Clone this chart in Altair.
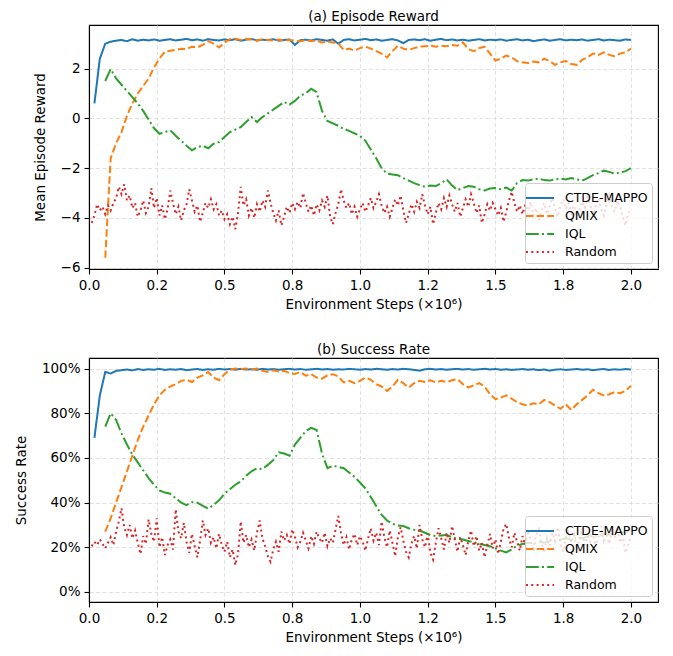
import altair as alt
import pandas as pd

METHODS = ["CTDE-MAPPO", "QMIX", "IQL", "Random"]
COLORS = ["#1f77b4", "#ff7f0e", "#2ca02c", "#d62728"]
DASHES = [[1, 0], [7.4, 3.2], [12.8, 3.2, 2, 3.2], [2, 3.3]]

X_TICKS = [0, 0.25, 0.5, 0.75, 1.0, 1.25, 1.5, 1.75, 2.0]
X_TICK_LABELS = ["0.0", "0.2", "0.5", "0.8", "1.0", "1.2", "1.5", "1.8", "2.0"]
REWARD_TICKS = [-6, -4, -2, 0, 2]
REWARD_TICK_LABELS = ["\u22126", "\u22124", "\u22122", "0", "2"]
SUCCESS_TICKS = [0, 20, 40, 60, 80, 100]
SUCCESS_TICK_LABELS = ["0%", "20%", "40%", "60%", "80%", "100%"]

# environment steps (x10^6), logging grid
STEPS = [0.00, 0.02, 0.04, 0.06, 0.08, 0.10, 0.12, 0.14, 0.16, 0.18,
         0.20, 0.22, 0.24, 0.26, 0.28, 0.30, 0.32, 0.34, 0.36, 0.38,
         0.40, 0.42, 0.44, 0.46, 0.48, 0.50, 0.52, 0.54, 0.56, 0.58,
         0.60, 0.62, 0.64, 0.66, 0.68, 0.70, 0.72, 0.74, 0.76, 0.78,
         0.80, 0.82, 0.84, 0.86, 0.88, 0.90, 0.92, 0.94, 0.96, 0.98,
         1.00, 1.02, 1.04, 1.06, 1.08, 1.10, 1.12, 1.14, 1.16, 1.18,
         1.20, 1.22, 1.24, 1.26, 1.28, 1.30, 1.32, 1.34, 1.36, 1.38,
         1.40, 1.42, 1.44, 1.46, 1.48, 1.50, 1.52, 1.54, 1.56, 1.58,
         1.60, 1.62, 1.64, 1.66, 1.68, 1.70, 1.72, 1.74, 1.76, 1.78,
         1.80, 1.82, 1.84, 1.86, 1.88, 1.90, 1.92, 1.94, 1.96, 1.98,
         2.00]

STEPS_FINE = [0.00, 0.01, 0.02, 0.03, 0.04, 0.05, 0.06, 0.07, 0.08, 0.09,
              0.10, 0.11, 0.12, 0.13, 0.14, 0.15, 0.16, 0.17, 0.18, 0.19,
              0.20, 0.21, 0.22, 0.23, 0.24, 0.25, 0.26, 0.27, 0.28, 0.29,
              0.30, 0.31, 0.32, 0.33, 0.34, 0.35, 0.36, 0.37, 0.38, 0.39,
              0.40, 0.41, 0.42, 0.43, 0.44, 0.45, 0.46, 0.47, 0.48, 0.49,
              0.50, 0.51, 0.52, 0.53, 0.54, 0.55, 0.56, 0.57, 0.58, 0.59,
              0.60, 0.61, 0.62, 0.63, 0.64, 0.65, 0.66, 0.67, 0.68, 0.69,
              0.70, 0.71, 0.72, 0.73, 0.74, 0.75, 0.76, 0.77, 0.78, 0.79,
              0.80, 0.81, 0.82, 0.83, 0.84, 0.85, 0.86, 0.87, 0.88, 0.89,
              0.90, 0.91, 0.92, 0.93, 0.94, 0.95, 0.96, 0.97, 0.98, 0.99,
              1.00, 1.01, 1.02, 1.03, 1.04, 1.05, 1.06, 1.07, 1.08, 1.09,
              1.10, 1.11, 1.12, 1.13, 1.14, 1.15, 1.16, 1.17, 1.18, 1.19,
              1.20, 1.21, 1.22, 1.23, 1.24, 1.25, 1.26, 1.27, 1.28, 1.29,
              1.30, 1.31, 1.32, 1.33, 1.34, 1.35, 1.36, 1.37, 1.38, 1.39,
              1.40, 1.41, 1.42, 1.43, 1.44, 1.45, 1.46, 1.47, 1.48, 1.49,
              1.50, 1.51, 1.52, 1.53, 1.54, 1.55, 1.56, 1.57, 1.58, 1.59,
              1.60, 1.61, 1.62, 1.63, 1.64, 1.65, 1.66, 1.67, 1.68, 1.69,
              1.70, 1.71, 1.72, 1.73, 1.74, 1.75, 1.76, 1.77, 1.78, 1.79,
              1.80, 1.81, 1.82, 1.83, 1.84, 1.85, 1.86, 1.87, 1.88, 1.89,
              1.90, 1.91, 1.92, 1.93, 1.94, 1.95, 1.96, 1.97, 1.98, 1.99,
              2.00]

# ---------------- (a) Episode Reward ----------------
REWARD_MAPPO = [None, 0.60, 2.40, 3.00, 3.08, 3.12, 3.15, 3.10, 3.18, 3.12,
                3.16, 3.13, 3.17, 3.12, 3.15, 3.18, 3.13, 3.16, 3.19, 3.14,
                3.17, 3.12, 3.18, 3.15, 3.13, 3.17, 3.14, 3.18, 3.12, 3.16,
                3.19, 3.13, 3.16, 3.14, 3.18, 3.12, 3.15, 3.17, 2.95, 3.14,
                3.16, 3.13, 3.18, 3.15, 3.12, 3.17, 3.00, 3.15, 3.18, 3.13,
                3.16, 3.19, 3.14, 3.17, 3.12, 3.15, 3.18, 3.13, 3.02, 3.15,
                3.17, 3.14, 3.18, 3.12, 3.16, 3.19, 3.14, 3.17, 3.13, 3.16,
                3.12, 3.15, 3.18, 3.13, 3.16, 3.14, 3.17, 3.12, 3.15, 3.18,
                3.13, 3.16, 3.10, 3.14, 3.17, 3.12, 3.15, 3.18, 3.13, 3.16,
                3.14, 3.17, 3.12, 3.15, 3.18, 3.13, 3.16, 3.14, 3.12, 3.17,
                3.15]
REWARD_QMIX = [None, None, None, -5.60, -1.60, -1.00, -0.55, 0.10, 0.60, 1.00,
               1.30, 1.60, 2.05, 2.40, 2.68, 2.72, 2.75, 2.80, 2.78, 2.88,
               2.85, 2.95, 3.10, 3.00, 2.85, 3.05, 3.18, 3.20, 3.15, 3.20,
               3.17, 3.12, 3.18, 3.15, 3.13, 3.17, 3.12, 3.15, 3.12, 3.10,
               3.14, 3.10, 3.12, 3.05, 3.08, 3.05, 3.02, 2.75, 2.80, 2.72,
               2.82, 2.88, 2.80, 2.70, 2.60, 2.45, 2.70, 2.92, 2.80, 2.75,
               2.82, 2.88, 2.90, 2.92, 2.88, 2.92, 2.90, 2.95, 2.92, 3.05,
               2.78, 2.70, 2.82, 2.88, 2.60, 2.32, 2.40, 2.52, 2.45, 2.30,
               2.25, 2.22, 2.28, 2.25, 2.40, 2.30, 2.15, 2.25, 2.30, 2.18,
               2.15, 2.35, 2.45, 2.60, 2.55, 2.65, 2.55, 2.50, 2.60, 2.65,
               2.80]
REWARD_IQL = [None, None, None, 1.50, 1.98, 1.60, 1.35, 1.10, 0.85, 0.60,
              0.30, -0.05, -0.40, -0.62, -0.55, -0.48, -0.70, -0.90, -1.10, -1.28,
              -1.15, -1.10, -1.20, -1.02, -0.95, -0.75, -0.55, -0.45, -0.35, -0.15,
              0.05, -0.15, 0.05, 0.20, 0.35, 0.50, 0.66, 0.55, 0.70, 0.92,
              1.00, 1.19, 1.05, 0.30, -0.10, -0.20, -0.30, -0.42, -0.50, -0.60,
              -0.70, -0.90, -1.25, -1.60, -2.00, -2.22, -2.25, -2.28, -2.40, -2.50,
              -2.60, -2.68, -2.75, -2.70, -2.72, -2.60, -2.45, -2.70, -2.88, -2.80,
              -2.72, -2.75, -2.85, -2.90, -2.82, -2.80, -2.85, -2.78, -2.90, -2.60,
              -2.48, -2.50, -2.45, -2.42, -2.48, -2.50, -2.45, -2.42, -2.45, -2.40,
              -2.45, -2.50, -2.40, -2.28, -2.20, -2.10, -2.15, -2.22, -2.18, -2.12,
              -2.00]
REWARD_RANDOM = [None, -4.20, -3.90, -3.45, -3.70, -3.55, -3.85, -3.50, -3.70, -3.40,
                 -3.20, -2.75, -3.05, -2.65, -3.30, -3.10, -3.60, -3.40, -3.95, -3.70,
                 -3.30, -3.80, -3.55, -2.80, -3.60, -3.20, -3.90, -3.50, -4.05, -3.65,
                 -2.90, -3.40, -3.85, -3.55, -4.10, -3.70, -3.45, -2.85, -3.30, -3.75,
                 -3.50, -4.15, -3.80, -3.40, -3.60, -3.25, -3.65, -3.45, -3.90, -3.70,
                 -4.05, -3.85, -4.25, -3.95, -4.45, -3.80, -2.75, -3.50, -3.25, -3.90,
                 -3.60, -4.00, -3.45, -3.75, -3.30, -3.55, -2.90, -3.40, -3.80, -4.10,
                 -3.70, -4.30, -3.95, -3.55, -3.80, -3.40, -3.65, -3.35, -3.60, -3.00,
                 -3.40, -3.75, -3.50, -3.90, -3.45, -3.70, -3.30, -3.55, -3.10, -3.95,
                 -4.25, -3.80, -3.45, -2.85, -3.30, -3.60, -3.40, -3.85, -3.55, -3.95,
                 -3.65, -3.40, -3.75, -3.50, -3.20, -3.60, -3.35, -3.05, -3.50, -3.80,
                 -3.55, -3.95, -3.60, -3.25, -3.50, -3.10, -3.70, -4.20, -3.85, -3.45,
                 -3.75, -3.35, -3.60, -3.05, -3.50, -3.85, -3.55, -4.25, -3.80, -3.40,
                 -3.65, -3.20, -3.55, -3.10, -3.45, -3.75, -3.40, -3.95, -3.60, -3.25,
                 -3.55, -3.05, -3.40, -3.80, -3.50, -4.20, -3.85, -3.45, -3.70, -3.40,
                 -3.65, -3.90, -3.60, -4.15, -3.75, -3.30, -2.95, -3.40, -3.75, -3.50,
                 -3.85, -3.45, -3.70, -3.35, -3.90, -3.60, -4.10, -3.70, -3.40, -3.85,
                 -3.55, -3.20, -3.60, -3.95, -3.50, -3.25, -3.65, -3.40, -3.80, -3.50,
                 -4.05, -3.70, -3.35, -3.60, -3.15, -3.50, -3.85, -3.55, -3.20, -3.60,
                 -3.90, -3.45, -3.10, -3.50, -3.75, -3.30, -3.55, -3.95, -4.30, -3.80,
                 -3.70]

# ---------------- (b) Success Rate (%) ----------------
SUCCESS_MAPPO = [None, 69.0, 88.0, 98.5, 97.8, 99.0, 99.3, 99.6, 99.2, 99.8,
                 99.4, 99.7, 99.5, 99.9, 99.4, 99.7, 99.5, 99.8, 99.3, 99.6,
                 99.8, 99.4, 99.7, 99.5, 99.9, 99.6, 99.8, 99.5, 99.9, 99.6,
                 99.7, 99.5, 99.9, 99.6, 99.8, 99.5, 99.7, 99.9, 99.6, 99.8,
                 99.5, 99.7, 99.9, 99.6, 99.8, 99.5, 99.7, 99.6, 99.9, 99.7,
                 99.5, 99.8, 99.6, 99.9, 99.7, 99.5, 99.8, 99.6, 99.9, 99.7,
                 99.4, 99.1, 99.7, 99.9, 99.6, 99.8, 99.5, 99.7, 99.9, 99.6,
                 99.8, 99.5, 99.7, 99.9, 99.6, 99.8, 99.5, 99.7, 99.4, 99.6,
                 99.8, 99.5, 99.7, 99.3, 99.6, 99.1, 99.5, 99.7, 99.4, 99.6,
                 99.8, 99.5, 99.7, 99.3, 99.6, 99.8, 99.4, 99.7, 99.5, 99.8,
                 99.6]
SUCCESS_QMIX = [None, None, None, 27.0, 33.0, 40.0, 47.0, 54.0, 61.0, 68.0,
                74.0, 79.0, 84.0, 88.0, 90.5, 92.0, 93.0, 94.5, 95.0, 94.0,
                96.0, 97.0, 98.5, 96.0, 94.8, 97.5, 99.5, 100.0, 99.8, 100.0,
                99.6, 100.0, 99.0, 98.5, 99.2, 98.7, 99.0, 98.0, 97.6, 98.5,
                96.8, 97.5, 96.0, 95.5, 97.0, 97.5, 96.5, 93.8, 94.5, 93.5,
                94.5, 96.0, 95.0, 93.0, 92.0, 90.0, 92.0, 95.0, 93.5, 91.5,
                93.5, 94.5, 94.0, 94.8, 93.8, 94.5, 94.0, 94.8, 95.3, 93.0,
                91.6, 92.5, 93.5, 92.0, 88.5, 86.3, 87.0, 88.0, 86.5, 85.0,
                84.0, 83.5, 84.5, 84.0, 86.0, 85.0, 83.5, 82.0, 84.0, 81.5,
                84.0, 86.0, 88.0, 90.5, 89.0, 88.0, 88.5, 89.5, 89.0, 90.0,
                92.3]
SUCCESS_IQL = [None, None, None, 74.0, 80.0, 77.0, 71.0, 66.0, 61.5, 58.0,
               54.5, 51.0, 48.0, 45.5, 44.5, 44.0, 42.0, 40.0, 38.9, 40.2,
               40.0, 38.5, 37.3, 39.0, 41.0, 44.0, 46.0, 48.0, 49.5, 52.0,
               54.0, 55.4, 55.0, 56.9, 59.0, 62.5, 62.0, 61.0, 66.0, 69.0,
               72.0, 73.5, 72.5, 62.0, 55.4, 56.5, 56.0, 55.4, 53.5, 51.5,
               49.0, 46.4, 42.5, 38.5, 34.5, 32.0, 30.5, 29.8, 29.5, 28.5,
               27.8, 27.5, 26.5, 25.5, 25.0, 25.3, 25.5, 24.5, 23.8, 23.5,
               22.8, 22.3, 21.5, 21.0, 20.5, 19.5, 18.5, 17.7, 19.0, 20.8,
               21.5, 22.0, 21.5, 22.5, 22.0, 23.0, 22.5, 23.5, 24.0, 23.5,
               24.5, 24.0, 25.0, 25.5, 25.0, 26.0, 25.5, 26.5, 27.0, 26.5,
               28.0]
SUCCESS_RANDOM = [None, 20.5, 22.5, 21.0, 23.5, 21.5, 19.5, 22.0, 24.5, 21.0,
                  27.0, 31.5, 37.5, 29.0, 25.5, 30.0, 24.0, 27.5, 22.0, 17.0,
                  25.0, 21.5, 32.5, 26.0, 22.5, 33.0, 20.0, 24.5, 16.5, 21.0,
                  23.5, 19.0, 37.0, 27.0, 24.0, 31.0, 22.5, 17.5, 26.0, 20.5,
                  15.5, 23.0, 32.0, 25.5, 28.5, 22.0, 24.5, 19.5, 26.0, 21.0,
                  18.0, 22.5, 15.5, 19.0, 12.0, 17.0, 31.5, 22.0, 25.5, 20.0,
                  23.5, 18.5, 26.5, 32.0, 24.0, 20.5, 16.0, 13.5, 19.0, 22.5,
                  18.0, 27.0, 23.0, 25.5, 21.5, 28.0, 24.5, 20.0, 22.5, 26.5,
                  23.0, 19.5, 25.0, 21.5, 27.0, 24.0, 22.0, 26.5, 20.5, 24.0,
                  22.0, 28.0, 34.0, 26.5, 21.0, 24.5, 19.0, 23.5, 26.0, 21.0,
                  25.0, 22.5, 18.5, 24.0, 28.5, 23.0, 26.5, 21.0, 31.5, 24.5,
                  20.0, 27.5, 22.0, 16.0, 24.5, 29.0, 23.0, 18.0, 15.5, 21.5,
                  25.0, 19.5, 30.0, 23.5, 20.0, 26.0, 17.5, 14.5, 22.0, 28.5,
                  24.0, 19.0, 26.5, 22.0, 29.5, 23.5, 18.0, 24.5, 21.0, 16.5,
                  23.0, 27.5, 20.5, 25.0, 18.5, 22.0, 15.5, 21.0, 26.0, 19.5,
                  23.5, 17.0, 22.5, 28.5, 30.5, 24.0, 20.0, 26.5, 22.5, 18.5,
                  25.0, 21.0, 27.5, 23.0, 19.5, 25.5, 28.0, 22.0, 17.5, 24.0,
                  20.5, 26.5, 23.0, 29.0, 21.5, 18.0, 24.5, 27.0, 22.0, 25.5,
                  19.0, 23.5, 28.5, 21.0, 25.0, 22.5, 27.0, 20.0, 24.5, 29.5,
                  23.0, 26.5, 21.5, 27.5, 24.0, 28.5, 22.0, 25.5, 17.5, 21.0,
                  24.5]

FONT = "DejaVu Sans"


def build_frame(series):
    rows = []
    for method, xs, ys in series:
        for x, y in zip(xs, ys):
            if y is not None:
                rows.append({"method": method, "step": x, "value": y})
    return pd.DataFrame(rows)


def label_expr(values, labels):
    expr = "''"
    for v, lab in reversed(list(zip(values, labels))):
        expr = f"abs(datum.value - ({v})) < 1e-6 ? '{lab}' : ({expr})"
    return expr


reward_df = build_frame([
    ("CTDE-MAPPO", STEPS, REWARD_MAPPO),
    ("QMIX", STEPS, REWARD_QMIX),
    ("IQL", STEPS, REWARD_IQL),
    ("Random", STEPS_FINE, REWARD_RANDOM),
])
success_df = build_frame([
    ("CTDE-MAPPO", STEPS, SUCCESS_MAPPO),
    ("QMIX", STEPS, SUCCESS_QMIX),
    ("IQL", STEPS, SUCCESS_IQL),
    ("Random", STEPS_FINE, SUCCESS_RANDOM),
])

x_expr = label_expr(X_TICKS, X_TICK_LABELS)


def panel(df, title, ytitle, ydomain, yticks, ylabels):
    legend = alt.Legend(
        title=None, orient="bottom-right", offset=6,
        fillColor="rgba(255,255,255,0.8)", strokeColor="#cccccc",
        cornerRadius=3, padding=4, labelFontSize=12.5, labelFont=FONT,
        labelColor="#000000", symbolType="M-1.4,0H1.4", symbolSize=400,
        symbolStrokeWidth=2, rowPadding=-1, labelOffset=14,
    )
    return alt.Chart(df).mark_line(strokeWidth=2, strokeCap="butt", clip=True).encode(
        x=alt.X("step:Q",
                scale=alt.Scale(domain=[0, 2.1], nice=False, zero=False),
                axis=alt.Axis(values=X_TICKS, labelExpr=x_expr, labelFlush=False,
                              title="Environment Steps (\u00d710\u2076)")),
        y=alt.Y("value:Q",
                scale=alt.Scale(domain=ydomain, nice=False, zero=False),
                axis=alt.Axis(values=yticks, labelExpr=label_expr(yticks, ylabels),
                              labelFlush=False, title=ytitle, titlePadding=13)),
        color=alt.Color("method:N",
                        scale=alt.Scale(domain=METHODS, range=COLORS),
                        legend=legend),
        strokeDash=alt.StrokeDash("method:N",
                                  scale=alt.Scale(domain=METHODS, range=DASHES),
                                  legend=legend),
        order=alt.Order("step:Q"),
    ).properties(width=569, height=244, title=title)


top = panel(reward_df, "(a) Episode Reward", "Mean Episode Reward",
            [-6.05, 3.75], REWARD_TICKS, REWARD_TICK_LABELS)
bottom = panel(success_df, "(b) Success Rate", "Success Rate",
               [-4.5, 104.75], SUCCESS_TICKS, SUCCESS_TICK_LABELS)

chart = alt.vconcat(top, bottom, spacing=89, bounds="flush").resolve_scale(
    color="independent", strokeDash="independent"
).resolve_legend(color="independent", strokeDash="independent").properties(
    padding={"left": 5, "top": 0, "right": 5, "bottom": 5}
).configure_view(
    stroke="#000000", strokeWidth=1.1
).configure_axis(
    labelFont=FONT, titleFont=FONT, labelFontSize=13.5, titleFontSize=13.5,
    labelColor="#000000", titleColor="#000000", titleFontWeight="normal",
    domainColor="#000000", domainWidth=1.1, tickColor="#000000", tickWidth=1.1,
    tickSize=5, labelPadding=4, titlePadding=6,
    grid=True, gridColor="#d9d9d9", gridDash=[4, 2.5], gridWidth=0.8,
).configure_title(
    font=FONT, fontSize=13.5, fontWeight="normal", color="#000000",
    anchor="middle", offset=2,
)

chart.save("out.html", embed_options={"renderer": "svg", "actions": False})
